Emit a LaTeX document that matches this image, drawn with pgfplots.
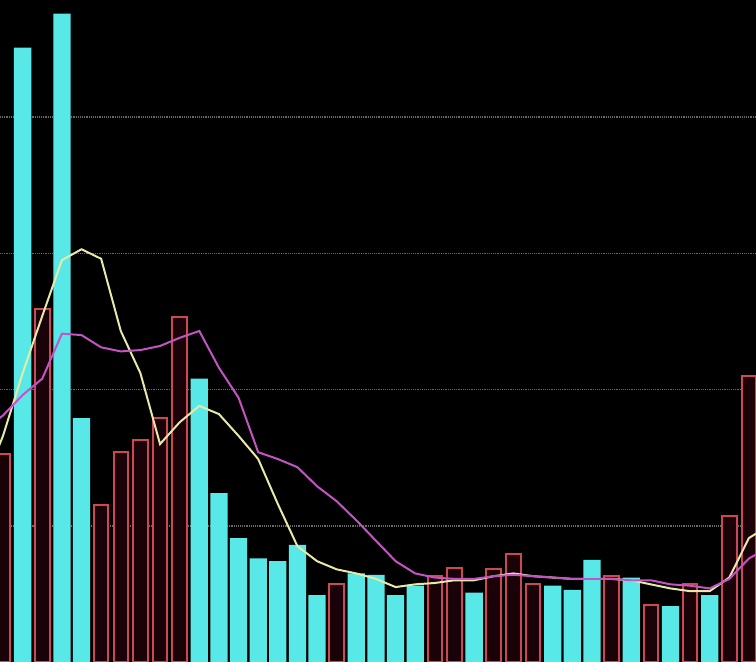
\documentclass[border=0pt]{standalone}
\usepackage{pgfplots}
\pgfplotsset{compat=1.18}
\definecolor{upcol}{RGB}{205,72,82}
\definecolor{upfill}{RGB}{26,3,8}
\definecolor{downcol}{RGB}{88,232,232}
\definecolor{maA}{RGB}{232,232,168}
\definecolor{maB}{RGB}{196,84,196}
\definecolor{gridc}{RGB}{105,105,105}
\begin{document}
\begin{tikzpicture}
\begin{axis}[
  name=ax,
  width=20cm, height=17.513cm, scale only axis,
  xmin=-0.153, xmax=38.36, ymin=0, ymax=4.86,
  axis background/.style={fill=black},
  axis line style={draw=none},
  xtick=\empty, ytick={1,2,3,4}, yticklabels={},
  ymajorgrids, major tick length=0pt,
  grid style={gridc, densely dotted, line width=1.2pt},
  clip=true,
]
% down-day volume (filled cyan)
\addplot[ybar, bar shift=0pt, bar width=0.88, fill=downcol, draw=none] coordinates {
(1,4.51) (3,4.76) (4,1.79) (10,2.08) (11,1.24) (12,0.91) (13,0.76) (14,0.74)
(15,0.86) (16,0.49) (18,0.65) (19,0.64) (20,0.49) (21,0.56) (24,0.51)
(28,0.56) (29,0.53) (30,0.75) (32,0.62) (34,0.41) (36,0.49)
};
% up-day volume (hollow red)
\addplot[ybar, bar shift=0pt, bar width=0.74, fill=upfill, draw=upcol, line width=1.5pt] coordinates {
(0,1.53) (2,2.59) (5,1.15) (6,1.54) (7,1.63) (8,1.79) (9,2.53) (17,0.57)
(22,0.63) (23,0.69) (25,0.68) (26,0.79) (27,0.57) (31,0.63) (33,0.42)
(35,0.57) (37,1.07) (38,2.10)
};
% short moving average (pale yellow)
\addplot[maA, line width=1.5pt] coordinates {
(-1,1.30) (0,1.66) (1,2.12) (2,2.54) (3,2.95) (4,3.03) (5,2.96) (6,2.43)
(7,2.12) (8,1.60) (9,1.76) (10,1.88) (11,1.82) (12,1.66) (13,1.49) (14,1.16)
(15,0.85) (16,0.74) (17,0.68) (18,0.65) (19,0.61) (20,0.55) (21,0.57) (22,0.58)
(23,0.60) (24,0.60) (25,0.63) (26,0.65) (27,0.63) (28,0.62) (29,0.61) (30,0.61)
(31,0.61) (32,0.60) (33,0.57) (34,0.54) (35,0.52) (36,0.52) (37,0.62) (38,0.91)
(39,1.00)
};
% long moving average (magenta)
\addplot[maB, line width=1.5pt] coordinates {
(-1,1.70) (0,1.81) (1,1.96) (2,2.08) (3,2.41) (4,2.40) (5,2.31) (6,2.28)
(7,2.29) (8,2.32) (9,2.38) (10,2.43) (11,2.16) (12,1.94) (13,1.54) (14,1.49)
(15,1.43) (16,1.29) (17,1.18) (18,1.04) (19,0.89) (20,0.74) (21,0.65) (22,0.62)
(23,0.61) (24,0.61) (25,0.63) (26,0.64) (27,0.63) (28,0.62) (29,0.61) (30,0.61)
(31,0.61) (32,0.60) (33,0.60) (34,0.57) (35,0.56) (36,0.54) (37,0.61) (38,0.76)
(39,0.84)
};
\end{axis}
\pgfresetboundingbox
\useasboundingbox (ax.south west) rectangle (ax.north east);
\end{tikzpicture}
\end{document}
